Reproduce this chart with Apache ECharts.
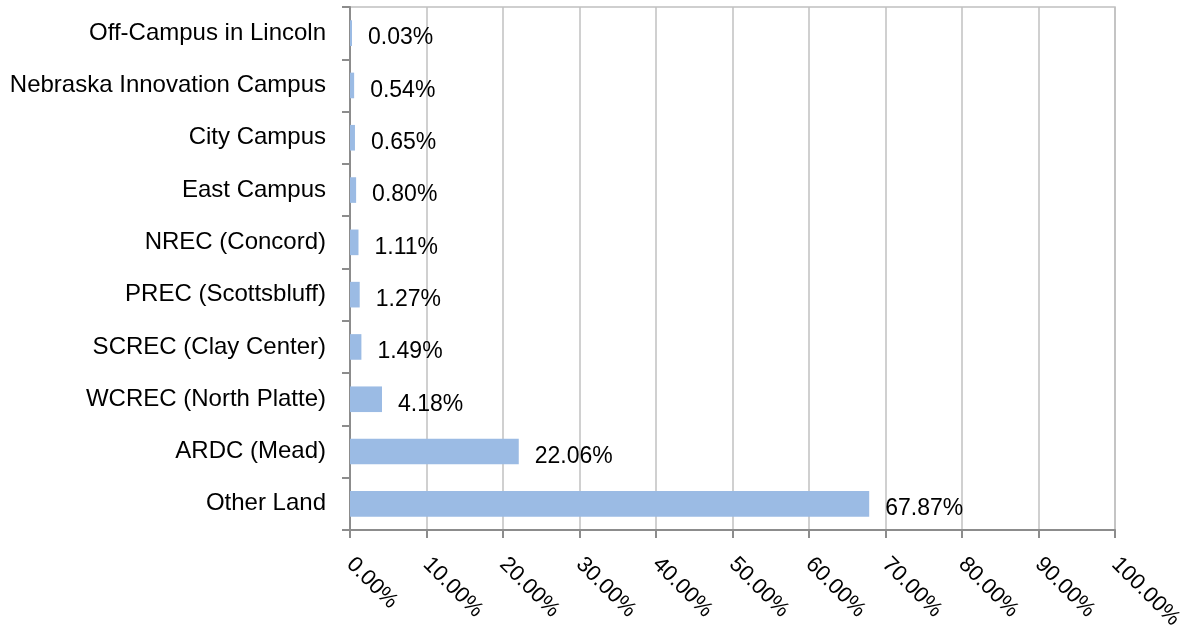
<!DOCTYPE html>
<html>
<head>
<meta charset="utf-8">
<title>Land share by location</title>
<script src="https://cdn.jsdelivr.net/npm/echarts@6/dist/echarts.min.js"></script>
<style>
  html, body { margin: 0; padding: 0; background: #fff; }
  #chart { width: 1186px; height: 630px; }
</style>
</head>
<body>
<div id="chart"></div>
<script>
// Locations, listed bottom to top on the category axis
const categories = [
  'Other Land',
  'ARDC (Mead)',
  'WCREC (North Platte)',
  'SCREC (Clay Center)',
  'PREC (Scottsbluff)',
  'NREC (Concord)',
  'East Campus',
  'City Campus',
  'Nebraska Innovation Campus',
  'Off-Campus in Lincoln'
];

// Share of total land, in percent
const shares = [67.87, 22.06, 4.18, 1.49, 1.27, 1.11, 0.80, 0.65, 0.54, 0.03];

// Value axis range and step, in percent
const axisMin = 0;
const axisMax = 100;
const axisStep = 10;

const FONT = '"Liberation Sans", Arial, sans-serif';

const chart = echarts.init(document.getElementById('chart'));

chart.setOption({
  animation: false,
  backgroundColor: '#ffffff',
  grid: {
    left: 350,
    right: 71,
    top: 7,
    bottom: 100,
    outerBoundsMode: 'none',
    containLabel: false,
    show: true,
    borderColor: '#c0c0c0',
    borderWidth: 1.5
  },
  xAxis: {
    type: 'value',
    min: axisMin,
    max: axisMax,
    interval: axisStep,
    axisLine: { show: true, lineStyle: { color: '#8c8c8c', width: 2 } },
    axisTick: { show: true, length: 8, lineStyle: { color: '#8c8c8c', width: 2 } },
    splitLine: { show: true, lineStyle: { color: '#c0c0c0', width: 1.5 } },
    axisLabel: {
      rotate: -45,
      margin: 31,
      color: '#000',
      fontFamily: FONT,
      fontSize: 22,
      formatter: v => v.toFixed(2) + '%'
    }
  },
  yAxis: {
    type: 'category',
    data: categories,
    axisLine: { show: true, lineStyle: { color: '#8c8c8c', width: 2 } },
    axisTick: { show: true, length: 8, lineStyle: { color: '#8c8c8c', width: 2 } },
    splitLine: { show: false },
    axisLabel: {
      margin: 24,
      color: '#000',
      fontFamily: FONT,
      fontSize: 24,
      padding: [6, 0, 0, 0]
    }
  },
  series: [{
    type: 'bar',
    data: shares,
    barWidth: '49%',
    barMinHeight: 2,
    itemStyle: { color: '#9bbbe4' },
    label: {
      show: true,
      position: 'right',
      distance: 16,
      offset: [0, 5],
      color: '#000',
      fontFamily: FONT,
      fontSize: 23,
      formatter: p => p.value.toFixed(2) + '%'
    }
  }]
});
</script>
</body>
</html>
